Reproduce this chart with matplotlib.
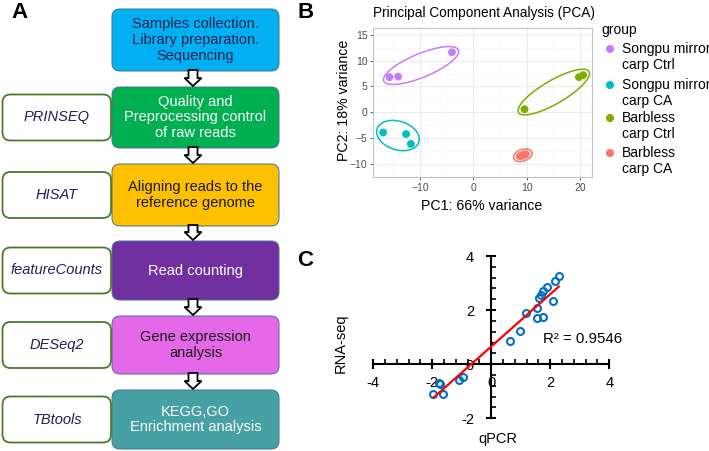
import numpy as np
import matplotlib
matplotlib.use("Agg")
import matplotlib.pyplot as plt
from matplotlib.patches import FancyBboxPatch, Polygon, Ellipse

plt.rcParams['font.family'] = ['Liberation Sans', 'DejaVu Sans']

# ---- data ----
# panel A: pipeline
steps = ["Samples collection.\nLibrary preparation.\nSequencing",
         "Quality and\nPreprocessing control\nof raw reads",
         "Aligning reads to the\nreference genome",
         "Read counting",
         "Gene expression\nanalysis",
         "KEGG,GO\nEnrichment analysis"]
step_colors = ["#00b0f0", "#00b050", "#ffc000", "#7030a0", "#e468e8", "#46a0a4"]
step_text_colors = ["#1a1f5c", "white", "#1a1a1a", "white", "#1a1a1a", "white"]
tools = ["PRINSEQ", "HISAT", "featureCounts", "DESeq2", "TBtools"]

# panel B: PCA
pca_groups = ["Songpu mirror\ncarp Ctrl", "Songpu mirror\ncarp CA",
              "Barbless\ncarp Ctrl", "Barbless\ncarp CA"]
pca_colors = ["#C77CFF", "#00BFC4", "#7CAE00", "#F8766D"]
pc1_songpu_ctrl = [-15.7, -14.1, -4.0]
pc2_songpu_ctrl = [6.8, 6.9, 11.6]
pc1_songpu_ca = [-16.9, -12.6, -11.7]
pc2_songpu_ca = [-3.9, -4.2, -6.1]
pc1_barbless_ctrl = [9.6, 19.8, 20.6]
pc2_barbless_ctrl = [0.6, 6.8, 7.2]
pc1_barbless_ca = [8.8, 9.4, 9.75]
pc2_barbless_ca = [-8.45, -8.27, -8.1]

# panel C: qPCR vs RNA-seq
qpcr = [2.29, 2.16, 1.88, 1.76, 1.68, 1.63, 2.08, 1.56, 1.74, 1.54, 1.16, 0.97,
        0.64, -0.97, -1.08, -1.74, -1.78, -1.63, -1.96]
rnaseq = [3.25, 3.09, 2.84, 2.69, 2.57, 2.45, 2.35, 2.08, 1.74, 1.69, 1.90, 1.24,
          0.84, -0.49, -0.58, -0.74, -0.70, -1.10, -1.10]
r2_text = "R² = 0.9546"

W, H = 709, 451
fig = plt.figure(figsize=(W / 100, H / 100), dpi=100)

def fx(x):
    return x / W

def fy(y):
    return 1 - y / H

# ---------- panel A (pixel coordinates) ----------
axA = fig.add_axes([0, 0, 1, 1])
axA.set_xlim(0, W)
axA.set_ylim(H, 0)
axA.axis("off")

box_tops = [9, 87, 164, 241, 316, 390]
box_bots = [71, 148, 226, 300, 374, 449]
bx0, bx1 = 112, 279
for i, txt in enumerate(steps):
    t, b = box_tops[i], box_bots[i]
    axA.add_patch(FancyBboxPatch((bx0, t), bx1 - bx0, b - t,
                                 boxstyle="round,pad=0,rounding_size=8",
                                 fc=step_colors[i], ec="#41719c", lw=0.7))
    axA.text((bx0 + bx1) / 2, (t + b) / 2, txt, ha="center", va="center",
             fontsize=10.5, color=step_text_colors[i], linespacing=1.15)

# side tool boxes
for i, tool in enumerate(tools):
    c = (box_tops[i + 1] + box_bots[i + 1]) / 2
    axA.add_patch(FancyBboxPatch((2.5, c - 23), 108.5, 46,
                                 boxstyle="round,pad=0,rounding_size=8",
                                 fc="white", ec="#4d7a2a", lw=1.3))
    axA.text(57, c, tool, ha="center", va="center", fontsize=10.5,
             style="italic", color="#1f1f55")

# hollow arrows
cx = 193
for i in range(len(steps) - 1):
    ya, yb = box_bots[i] - 1, box_tops[i + 1] - 1
    hy = yb - 8
    pts = [(cx - 4.5, ya), (cx + 4.5, ya), (cx + 4.5, hy), (cx + 8.5, hy),
           (cx, yb), (cx - 8.5, hy), (cx - 4.5, hy)]
    axA.add_patch(Polygon(pts, closed=True, fc="white", ec="black", lw=1.3, zorder=5))

for lab, (x, y) in zip(["A", "B", "C"], [(19, 13), (306, 13), (305, 260)]):
    fig.text(fx(x), fy(y), lab, fontsize=16, fontweight="bold", ha="center", va="center")

# ---------- panel B: PCA ----------
axB = fig.add_axes([fx(373), fy(177), (592 - 373) / W, (177 - 28) / H])
axB.set_xlim(-18.8, 22.25)
axB.set_ylim(-11.5, 16.3)
axB.set_xticks([-10, 0, 10, 20])
axB.set_xticks([-15, -5, 5, 15], minor=True)
axB.set_yticks([-10, -5, 0, 5, 10, 15])
axB.set_yticks([-12.5, -7.5, -2.5, 2.5, 7.5, 12.5], minor=True)
axB.grid(which="major", color="#ebebeb", lw=0.8)
axB.grid(which="minor", color="#f5f5f5", lw=0.5)
axB.set_axisbelow(True)
for s in axB.spines.values():
    s.set_color("#c4c4c4")
    s.set_linewidth(0.8)
axB.tick_params(which="major", length=2.5, width=0.6, color="#444444",
                labelsize=7.5, labelcolor="#4d4d4d", pad=1.5)
axB.tick_params(which="minor", length=0)

pcs = [(pc1_songpu_ctrl, pc2_songpu_ctrl), (pc1_songpu_ca, pc2_songpu_ca),
       (pc1_barbless_ctrl, pc2_barbless_ctrl), (pc1_barbless_ca, pc2_barbless_ca)]
ell_pad = [(1.3, 2.0), (1.3, 2.0), (1.3, 2.2), (1.3, 1.1)]


def bounding_ellipse(xs, ys, pad_a, pad_b):
    P = np.column_stack([xs, ys])
    m = P.mean(axis=0)
    vals, vecs = np.linalg.eigh(np.cov(P.T))
    v = vecs[:, np.argmax(vals)]
    w = np.array([-v[1], v[0]])
    pv = (P - m) @ v
    pw = (P - m) @ w
    cen = m + v * (pv.max() + pv.min()) / 2 + w * (pw.max() + pw.min()) / 2
    a = (pv.max() - pv.min()) / 2 + pad_a
    b = (pw.max() - pw.min()) / 2 + pad_b
    ang = np.degrees(np.arctan2(v[1], v[0]))
    return cen, a, b, ang


for (xs, ys), col, (pa, pb) in zip(pcs, pca_colors, ell_pad):
    cen, a, b, ang = bounding_ellipse(xs, ys, pa, pb)
    axB.add_patch(Ellipse(cen, 2 * a, 2 * b, angle=ang, fill=False, ec=col, lw=1.1))
    axB.scatter(xs, ys, s=32, color=col, zorder=3, edgecolors="none")
# inner ring of the tight group
xs, ys = pcs[3]
cen, a, b, ang = bounding_ellipse(xs, ys, 0.75, 0.65)
axB.add_patch(Ellipse(cen, 2 * a, 2 * b, angle=ang, fill=False, ec=pca_colors[3], lw=1.1))

fig.text(fx(373), fy(13), "Principal Component Analysis (PCA)", fontsize=9.8,
         ha="left", va="center")
fig.text(fx(482), fy(206), "PC1: 66% variance", fontsize=10.2, ha="center", va="center")
fig.text(fx(344), fy(100), "PC2: 18% variance", fontsize=10.2, ha="center", va="center",
         rotation=90)

# legend
fig.text(fx(601), fy(30), "group", fontsize=10, ha="left", va="center")
leg_y = [49, 85, 118, 153]
for g, col, y in zip(pca_groups, pca_colors, leg_y):
    axA.scatter([610], [y], s=34, color=col, edgecolors="none")
    fig.text(fx(622), fy(y + 8), g, fontsize=10, ha="left", va="center",
             linespacing=1.25)

# ---------- panel C: qPCR vs RNA-seq ----------
axC = fig.add_axes([fx(373.3), fy(418.3), (609.3 - 373.3) / W, (418.3 - 256) / H])
axC.set_xlim(-4, 4)
axC.set_ylim(-2, 4)
axC.patch.set_alpha(0)
axC.spines["left"].set_position(("data", 0))
axC.spines["bottom"].set_position(("data", 0))
axC.spines["top"].set_visible(False)
axC.spines["right"].set_visible(False)
for s in ("left", "bottom"):
    axC.spines[s].set_linewidth(1.5)
x_major = [-4, -2, 0, 2, 4]
y_major = [-2, 0, 2, 4]
axC.set_xticks(x_major, [str(v) for v in x_major])
axC.set_yticks(y_major, [str(v) for v in y_major])
axC.set_xticks(np.arange(-4, 4.01, 0.4), minor=True)
axC.set_yticks(np.arange(-2, 4.01, 0.4), minor=True)
axC.tick_params(axis="x", which="major", direction="inout", length=7, width=1.5,
                labelsize=10.5, pad=5)
axC.tick_params(axis="y", which="major", direction="inout", length=7, width=1.5,
                labelsize=10.5, pad=9)
axC.tick_params(which="minor", direction="in", length=3.5, width=1.2)

axC.plot(qpcr, rnaseq, "o", ms=5, mfc="none", mec="#0070c0", mew=1.5,
         clip_on=False, zorder=3)
k, c0 = np.polyfit(qpcr, rnaseq, 1)
xl = np.array([min(qpcr), max(qpcr)])
axC.plot(xl, k * xl + c0, color="#ff0000", lw=1.6, zorder=4)
axC.text(1.75, 0.95, r2_text, fontsize=10.8, ha="left", va="center")

fig.text(fx(498), fy(439), "qPCR", fontsize=10.5, ha="center", va="center")
fig.text(fx(341), fy(343), "RNA-seq", fontsize=10.5, ha="center", va="center", rotation=90)

fig.savefig("out.png", dpi=100)
